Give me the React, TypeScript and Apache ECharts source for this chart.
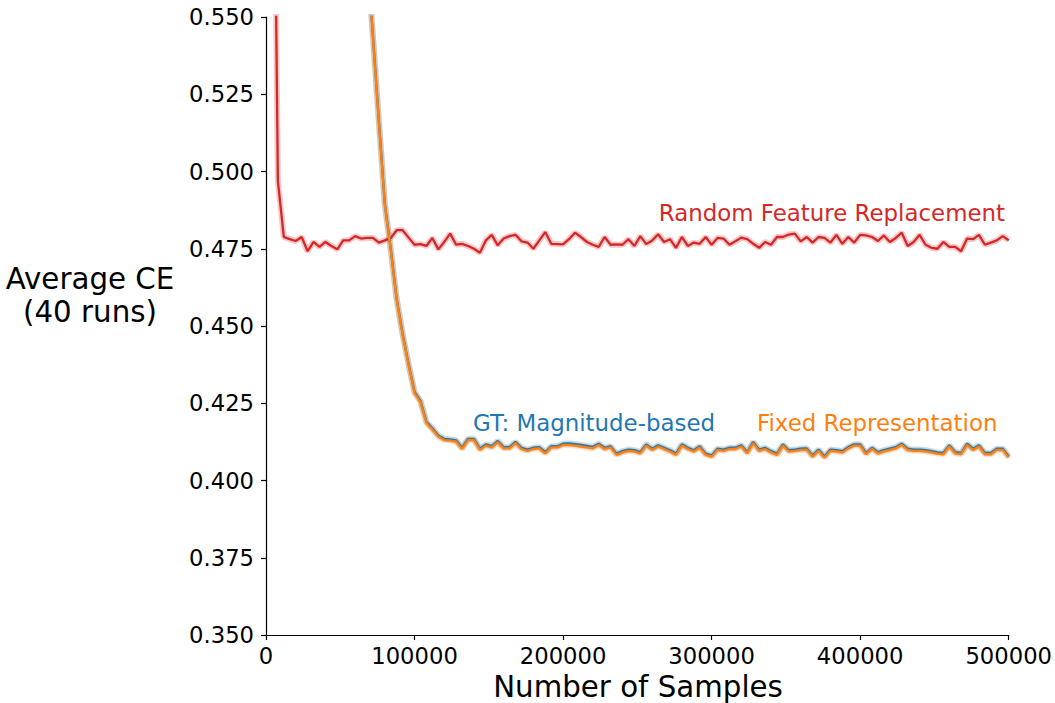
import React, { useEffect, useRef } from "react";
import * as echarts from "echarts";

const SAMPLE_STEP = 4000;

const randomFeatureReplacement = [
  0.693, 0.68, 0.497, 0.4788, 0.4781, 0.4775, 0.4788, 0.4742, 0.4772, 0.4756,
  0.4772, 0.4759, 0.4748, 0.4777, 0.4777, 0.4791, 0.4783, 0.4785, 0.4785, 0.477,
  0.4777, 0.4785, 0.481, 0.481, 0.4786, 0.4763, 0.4765, 0.4759, 0.4785, 0.4748,
  0.4772, 0.4799, 0.4763, 0.4766, 0.4759, 0.475, 0.4737, 0.4777, 0.4795, 0.4761,
  0.4783, 0.4791, 0.4795, 0.4774, 0.477, 0.475, 0.4777, 0.4804, 0.4766, 0.4765,
  0.4764, 0.4781, 0.4802, 0.4788, 0.4772, 0.4763, 0.4756, 0.4788, 0.4763, 0.4764,
  0.4763, 0.4781, 0.4759, 0.4791, 0.4765, 0.4777, 0.4797, 0.4772, 0.4781, 0.4753,
  0.4788, 0.4759, 0.477, 0.4766, 0.4788, 0.4763, 0.4785, 0.4783, 0.4763, 0.4774,
  0.4786, 0.4781, 0.4766, 0.4753, 0.4772, 0.4763, 0.4788, 0.4788, 0.4796, 0.4799,
  0.4774, 0.4788, 0.477, 0.4788, 0.4785, 0.477, 0.4795, 0.4766, 0.4788, 0.477,
  0.4795, 0.4793, 0.4788, 0.4775, 0.4793, 0.4772, 0.4785, 0.4802, 0.4759, 0.4772,
  0.4795, 0.4763, 0.4753, 0.475, 0.4772, 0.4756, 0.4756, 0.4742, 0.4783, 0.4781,
  0.4795, 0.4763, 0.477, 0.4777, 0.4791, 0.4777,
];

const gtMagnitudeBased = [
  0.694, 0.693, 0.691, 0.689, 0.686, 0.682, 0.677, 0.671, 0.664, 0.656,
  0.647, 0.639, 0.631, 0.622, 0.612, 0.599, 0.586,
  0.571, 0.5438, 0.5163, 0.4895, 0.4749, 0.4587, 0.4474, 0.4377, 0.4287, 0.4258,
  0.419, 0.4169, 0.4146, 0.4135, 0.4133, 0.413, 0.4106, 0.4135, 0.4135, 0.4103,
  0.4117, 0.4111, 0.4128, 0.4108, 0.4108, 0.4125, 0.4106, 0.41, 0.4106, 0.4108,
  0.4092, 0.4111, 0.4111, 0.4119, 0.412, 0.4118, 0.4115, 0.4112, 0.4109, 0.4119,
  0.4106, 0.4111, 0.4087, 0.4095, 0.41, 0.4098, 0.4092, 0.4117, 0.4103, 0.4114,
  0.4106, 0.4098, 0.4087, 0.4117, 0.4106, 0.4098, 0.4111, 0.4087, 0.4081, 0.4103,
  0.41, 0.4106, 0.4106, 0.4114, 0.4092, 0.4125, 0.41, 0.4106, 0.4095, 0.4087,
  0.4117, 0.4098, 0.41, 0.4103, 0.4104, 0.4081, 0.41, 0.4078, 0.41, 0.4098,
  0.4095, 0.4108, 0.4117, 0.4117, 0.4089, 0.4106, 0.4092, 0.4098, 0.4103, 0.4108,
  0.4119, 0.4103, 0.41, 0.41, 0.4098, 0.4095, 0.4091, 0.4089, 0.4114, 0.4092,
  0.4089, 0.4119, 0.4103, 0.4114, 0.4089, 0.4089, 0.4103, 0.4103, 0.4078,
];

const fixedRepresentation = [
  0.693, 0.692, 0.69, 0.688, 0.685, 0.681, 0.676, 0.67, 0.663, 0.655,
  0.646, 0.638, 0.63, 0.621, 0.611, 0.598, 0.585,
  0.5707, 0.5435, 0.516, 0.4892, 0.4746, 0.4584, 0.4471, 0.4374, 0.4283, 0.4254,
  0.4186, 0.4165, 0.4142, 0.4131, 0.4129, 0.4126, 0.4102, 0.4131, 0.4131, 0.4099,
  0.4113, 0.4107, 0.4124, 0.4104, 0.4104, 0.4121, 0.4102, 0.4096, 0.4102, 0.4104,
  0.4088, 0.4107, 0.4107, 0.4115, 0.4115, 0.4113, 0.411, 0.4107, 0.4104, 0.4115,
  0.4102, 0.4107, 0.4083, 0.4091, 0.4096, 0.4094, 0.4088, 0.4113, 0.4099, 0.411,
  0.4102, 0.4094, 0.4083, 0.4113, 0.4102, 0.4094, 0.4107, 0.4083, 0.4077, 0.4099,
  0.4096, 0.4102, 0.4102, 0.411, 0.4088, 0.4121, 0.4096, 0.4102, 0.4091, 0.4083,
  0.4113, 0.4094, 0.4096, 0.4099, 0.41, 0.4077, 0.4096, 0.4074, 0.4096, 0.4094,
  0.4091, 0.4104, 0.4113, 0.4113, 0.4085, 0.4102, 0.4088, 0.4094, 0.4099, 0.4104,
  0.4115, 0.4099, 0.4096, 0.4096, 0.4094, 0.4091, 0.4087, 0.4085, 0.411, 0.4088,
  0.4085, 0.4115, 0.4099, 0.411, 0.4085, 0.4085, 0.4099, 0.4099, 0.4074,
];

const xTicks = { min: 0, max: 500000, interval: 100000 };
const yTicks = { min: 0.35, max: 0.55, interval: 0.025 };

const RED = "#d62728";
const BLUE = "#1f77b4";
const ORANGE = "#ff7f0e";
const FONT = "DejaVu Sans";

const toPairs = (arr: number[]) => arr.map((v, i) => [i * SAMPLE_STEP, v]);

export default function App() {
  const ref = useRef<HTMLDivElement>(null);
  useEffect(() => {
    if (!ref.current) return;
    const chart = echarts.init(ref.current, undefined, { renderer: "svg" });
    const mk = (name: string, data: number[], color: string, band: boolean, z: number) => ({
      name,
      type: "line",
      data: toPairs(data),
      showSymbol: false,
      symbol: "none",
      clip: true,
      z,
      lineStyle: band
        ? { color, width: 6, opacity: 0.25 }
        : { color, width: 2.3 },
      emphasis: { disabled: true },
    });
    chart.setOption({
      animation: false,
      backgroundColor: "#ffffff",
      grid: { left: 266, top: 17, width: 744, height: 618, containLabel: false },
      xAxis: {
        type: "value",
        ...xTicks,
        axisLine: { show: true, lineStyle: { color: "#000", width: 1.2 } },
        axisTick: { show: true, length: 5, lineStyle: { color: "#000", width: 1.2 } },
        axisLabel: {
          color: "#000",
          fontSize: 22.7,
          margin: 9,
          fontFamily: FONT,
          formatter: (v: number) => String(Math.round(v)),
        },
        splitLine: { show: false },
      },
      yAxis: {
        type: "value",
        ...yTicks,
        axisLine: { show: true, lineStyle: { color: "#000", width: 1.2 } },
        axisTick: { show: true, length: 5, lineStyle: { color: "#000", width: 1.2 } },
        axisLabel: {
          color: "#000",
          fontSize: 22.7,
          margin: 12,
          fontFamily: FONT,
          formatter: (v: number) => v.toFixed(3),
        },
        splitLine: { show: false },
      },
      series: [
        mk("rfr-band", randomFeatureReplacement, RED, true, 1),
        mk("gt-band", gtMagnitudeBased, BLUE, true, 1),
        mk("fixed-band", fixedRepresentation, ORANGE, true, 1),
        mk("Random Feature Replacement", randomFeatureReplacement, RED, false, 2),
        mk("GT: Magnitude-based", gtMagnitudeBased, BLUE, false, 3),
        mk("Fixed Representation", fixedRepresentation, ORANGE, false, 4),
      ],
      graphic: [
        {
          type: "text",
          x: 1005,
          y: 213,
          style: {
            text: "Random Feature Replacement",
            fill: RED,
            font: `22.9px '${FONT}'`,
            textAlign: "right",
            textVerticalAlign: "middle",
          },
        },
        {
          type: "text",
          x: 473,
          y: 423,
          style: {
            text: "GT: Magnitude-based",
            fill: BLUE,
            font: `22.9px '${FONT}'`,
            textAlign: "left",
            textVerticalAlign: "middle",
          },
        },
        {
          type: "text",
          x: 757,
          y: 423,
          style: {
            text: "Fixed Representation",
            fill: ORANGE,
            font: `22.9px '${FONT}'`,
            textAlign: "left",
            textVerticalAlign: "middle",
          },
        },
        {
          type: "text",
          x: 90,
          y: 279,
          style: {
            text: "Average CE",
            fill: "#000",
            font: `29.3px '${FONT}'`,
            textAlign: "center",
            textVerticalAlign: "middle",
          },
        },
        {
          type: "text",
          x: 90,
          y: 312,
          style: {
            text: "(40 runs)",
            fill: "#000",
            font: `29.3px '${FONT}'`,
            textAlign: "center",
            textVerticalAlign: "middle",
          },
        },
        {
          type: "text",
          x: 638,
          y: 687,
          style: {
            text: "Number of Samples",
            fill: "#000",
            font: `29.3px '${FONT}'`,
            textAlign: "center",
            textVerticalAlign: "middle",
          },
        },
      ],
    });
    return () => chart.dispose();
  }, []);
  return (
    <div
      ref={ref}
      style={{ position: "fixed", left: 0, top: 0, width: 1055, height: 703, background: "#fff" }}
    />
  );
}
